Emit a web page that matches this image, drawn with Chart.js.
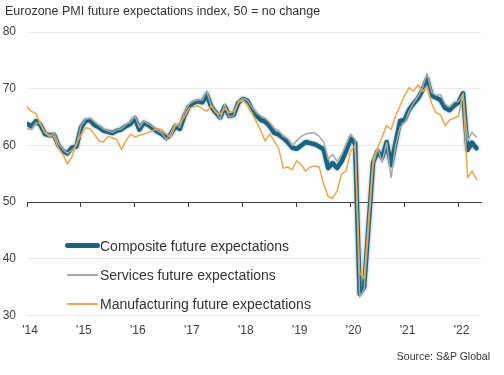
<!DOCTYPE html>
<html>
<head>
<meta charset="utf-8">
<script src="https://cdn.jsdelivr.net/npm/chart.js@4.4.1/dist/chart.umd.min.js"></script>
<style>
  body { margin: 0; background: #fff; font-family: "Liberation Sans", Arial, sans-serif; color: #333; }
  #wrap { position: relative; width: 504px; height: 375px; overflow: hidden; }
  #chart { position: absolute; left: 0; top: 0; }
  .title { position: absolute; left: 5px; top: 4px; font-size: 12.5px; white-space: nowrap; }
  .source { position: absolute; right: 14px; top: 350px; font-size: 10.5px; }
  .legend { position: absolute; left: 64px; top: 231px; font-size: 14px; }
  .legend .row { height: 29px; display: flex; align-items: center; white-space: nowrap; }
  .legend .key { width: 36px; display: flex; align-items: center; justify-content: center; }
</style>
</head>
<body>
<div id="wrap">
  <canvas id="chart" width="504" height="375"></canvas>
  <div class="title">Eurozone PMI future expectations index, 50 = no change</div>
  <div class="legend" id="legend"></div>
  <div class="source">Source: S&amp;P Global</div>
</div>
<script>
// monthly, Jan 2014 .. May 2022
const startYear = 2014;
const tickLabels = ["'14", "'15", "'16", "'17", "'18", "'19", "'20", "'21", "'22"];

const composite = [
  63.8, 63.4, 64.3, 63.6, 62.0, 61.8, 61.9, 60.0, 59.0, 58.6, 59.6, 59.8,
  63.1, 64.3, 64.5, 63.6, 63.2, 62.6, 62.4, 62.2, 62.6, 62.8, 63.4, 63.8,
  64.8, 62.8, 64.0, 63.6, 63.0, 62.4, 62.0, 61.3, 62.0, 63.4, 62.9, 65.2,
  66.8, 67.5, 67.8, 67.6, 69.0, 66.8, 65.8, 64.9, 66.9, 65.2, 65.4, 67.5,
  68.2, 67.9, 66.4, 65.3, 64.5, 64.2, 63.4, 62.2, 61.9, 61.3, 60.6, 59.6,
  59.4, 60.0, 60.6, 60.4, 60.2, 59.8, 59.3, 56.0, 56.9, 56.0, 57.2, 59.0,
  61.2, 60.4, 33.8, 35.0, 46.0, 57.0, 59.0, 57.8, 60.6, 56.5, 60.5, 64.3,
  64.5, 66.3, 67.4, 68.3, 69.8, 71.8, 68.8, 68.4, 68.0, 66.6, 66.2, 67.0,
  67.6, 69.2, 59.2, 60.5, 59.5
];
const services = [
  63.0, 62.8, 64.0, 63.8, 62.2, 61.6, 62.2, 60.4, 59.3, 58.6, 59.2, 60.0,
  63.4, 64.6, 64.8, 64.2, 63.5, 62.9, 62.6, 62.3, 62.8, 62.9, 63.7, 64.1,
  65.2, 63.2, 64.3, 63.8, 63.3, 62.6, 62.2, 61.0, 62.2, 63.8, 63.2, 65.8,
  67.2, 67.8, 68.0, 68.0, 69.6, 66.9, 66.0, 64.6, 67.3, 65.0, 65.3, 67.8,
  68.3, 68.0, 66.8, 65.8, 65.2, 64.8, 64.0, 63.0, 62.6, 61.6, 61.2, 60.0,
  60.8, 61.6, 62.0, 62.2, 62.2, 61.6, 60.6, 57.6, 58.4, 57.2, 58.4, 60.2,
  62.0, 61.0, 33.3, 34.6, 45.5, 56.5, 59.6, 57.0, 60.5, 54.3, 60.0, 63.2,
  64.0, 66.0, 67.5, 68.6, 70.2, 72.7, 69.4, 68.8, 69.0, 67.3, 66.8, 67.6,
  67.8, 69.0, 60.8, 62.3, 61.5
];
const manufacturing = [
  66.8, 66.0, 65.6, 63.8, 62.3, 61.8, 61.6, 59.5, 58.4, 56.7, 58.0, 60.4,
  61.8, 63.1, 63.0, 62.0, 60.8, 60.6, 61.6, 61.3, 61.0, 59.3, 60.8, 62.0,
  61.5, 61.8, 62.0, 62.3, 62.6, 63.0, 62.8, 62.0, 61.5, 63.5, 64.0, 65.0,
  66.5, 66.8, 67.0, 66.5, 66.0, 67.0, 65.8, 65.5, 66.5, 65.8, 66.0, 67.5,
  68.0, 67.2, 65.8, 64.2, 62.6, 60.8, 62.0, 60.8, 59.4, 56.0, 56.2, 55.7,
  57.3, 56.6, 55.5, 56.2, 56.4, 56.2, 53.2, 51.0, 50.7, 52.0, 55.0, 55.5,
  59.0, 60.0, 37.5, 36.6, 47.0, 57.5, 59.5, 61.5, 63.5, 62.8, 65.2, 67.0,
  68.8, 70.2, 69.6, 70.7, 69.5, 70.5, 67.4, 65.8, 65.4, 63.5, 64.5, 64.8,
  65.2, 69.2, 54.3, 55.5, 54.0
];

const seriesNames = ['Composite future expectations', 'Services future expectations', 'Manufacturing future expectations'];
const seriesColors = ['#17657f', '#a8a8a8', '#f0a646'];

// x = months since Jan 2014
function toPoints(arr) {
  return arr.map((v, i) => ({ x: i, y: v }));
}

// legend (html, inside plot like the original)
const legendEl = document.getElementById('legend');
seriesNames.forEach((name, i) => {
  const row = document.createElement('div');
  row.className = 'row';
  const h = i === 0 ? 5 : 2;
  const w = i === 0 ? 35 : 31;
  row.innerHTML = '<span class="key"><span style="display:block;width:' + w + 'px;height:' + h +
    'px;border-radius:3px;background:' + seriesColors[i] + '"></span></span><span>' + name + '</span>';
  legendEl.appendChild(row);
});

// soft halo on the thick composite line
const haloPlugin = {
  id: 'halo',
  beforeDatasetDraw(chart, args) {
    if (args.index !== 0) return;
    chart.ctx.save();
    chart.ctx.shadowColor = 'rgba(110,140,155,0.75)';
    chart.ctx.shadowBlur = 3;
  },
  afterDatasetDraw(chart, args) {
    if (args.index !== 0) return;
    chart.ctx.restore();
  }
};

const keepYears = scale => {
  scale.ticks = scale.ticks.filter(t => t.value % 12 === 0);
};
const tickFont = { family: '"Liberation Sans", Arial, sans-serif', size: 12 };

const ctx = document.getElementById('chart').getContext('2d');
new Chart(ctx, {
  type: 'line',
  data: {
    datasets: [
      { label: seriesNames[0], data: toPoints(composite), borderColor: seriesColors[0], borderWidth: 4.5, order: 2 },
      { label: seriesNames[1], data: toPoints(services), borderColor: seriesColors[1], borderWidth: 1.5, order: 1 },
      { label: seriesNames[2], data: toPoints(manufacturing), borderColor: seriesColors[2], borderWidth: 1.5, order: 0 }
    ]
  },
  options: {
    responsive: false,
    animation: false,
    events: [],
    elements: {
      point: { radius: 0 },
      line: { tension: 0, borderJoinStyle: 'round', borderCapStyle: 'round', fill: false }
    },
    layout: { padding: { top: 32, right: 23, bottom: 29, left: 0 } },
    plugins: {
      legend: { display: false },
      tooltip: { enabled: false }
    },
    scales: {
      x: {
        type: 'linear',
        min: 0,
        max: 101,
        afterBuildTicks: keepYears,
        ticks: {
          stepSize: 12,
          includeBounds: false,
          maxRotation: 0,
          autoSkip: false,
          padding: 8,
          labelOffset: 3,
          font: tickFont,
          color: '#404040',
          callback: v => tickLabels[v / 12]
        },
        grid: { display: false, drawTicks: false },
        border: { display: false }
      },
      axis50: {
        type: 'linear',
        axis: 'x',
        position: { y: 50 },
        min: 0,
        max: 101,
        afterBuildTicks: keepYears,
        ticks: { stepSize: 12, includeBounds: false, display: false },
        grid: { drawOnChartArea: false, drawTicks: true, tickLength: 4, color: '#404040' },
        border: { display: true, color: '#404040', width: 1 }
      },
      y: {
        min: 30,
        max: 80,
        afterFit: s => { s.width = 27; },
        ticks: { stepSize: 10, padding: 11, font: tickFont, color: '#404040' },
        grid: {
          drawTicks: false,
          color: c => (c.tick && c.tick.value === 50) ? 'rgba(0,0,0,0)' : '#ececec'
        },
        border: { display: false }
      }
    }
  },
  plugins: [haloPlugin]
});
</script>
</body>
</html>
